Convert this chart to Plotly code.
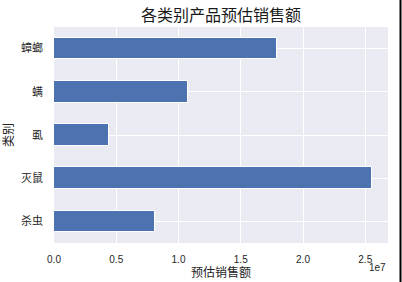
import plotly.graph_objects as go

categories = ["杀虫", "灭鼠", "虱", "螨", "蟑螂"]
sales = [8130000, 25550000, 4410000, 10780000, 17900000]
x_tick_values = [0, 5e6, 1e7, 1.5e7, 2e7, 2.5e7]
x_tick_labels = ["0.0", "0.5", "1.0", "1.5", "2.0", "2.5"]

FONT = "Liberation Sans, Arial, Noto Sans CJK SC, sans-serif"

fig = go.Figure(go.Bar(
    x=sales, y=list(range(len(categories))), orientation="h",
    width=0.5, marker=dict(color="#4C72B0", line=dict(color="white", width=1)),
))

L, R, T, B = 54, 14, 27, 39
W, H = 402, 282
pw, ph = W - L - R, H - T - B

fig.update_layout(
    width=W, height=H,
    margin=dict(l=L, r=R, t=T, b=B, pad=0, autoexpand=False),
    paper_bgcolor="white", plot_bgcolor="#EAEAF2",
    showlegend=False,
    font=dict(family=FONT, color="#262626", size=10),
    title=dict(text="各类别产品预估销售额", x=(L + pw / 2) / W, xanchor="center",
               y=1 - 15 / H, yanchor="middle",
               font=dict(size=16, color="#1a1a1a", family=FONT)),
    xaxis=dict(range=[0, max(sales) * 1.05], tickvals=x_tick_values, ticktext=x_tick_labels,
               showgrid=True, gridcolor="white", gridwidth=1, zeroline=False,
               showline=False, ticks="", ticklabelstandoff=9, automargin=False,
               title=dict(text="预估销售额", font=dict(size=12), standoff=3)),
    yaxis=dict(range=[-0.5, 4.5], tickvals=list(range(len(categories))), ticktext=categories,
               showgrid=True, gridcolor="white", gridwidth=1, zeroline=False,
               showline=False, ticks="", ticklabelstandoff=10, automargin=False,
               tickfont=dict(size=11),
               title=dict(text="类别", font=dict(size=12), standoff=4)),
    bargap=0,
)

fig.add_annotation(text="1e7", xref="paper", yref="paper", x=1.0, y=-(267 - (T + ph)) / ph,
                   xanchor="right", yanchor="middle", showarrow=False,
                   font=dict(size=10, color="#262626"))

fig.add_shape(type="line", xref="paper", yref="paper",
              x0=(400.5 - L) / pw, x1=(400.5 - L) / pw,
              y0=(T + ph - H) / ph, y1=(T + ph) / ph,
              line=dict(color="black", width=2))

fig.write_html("out.html")
